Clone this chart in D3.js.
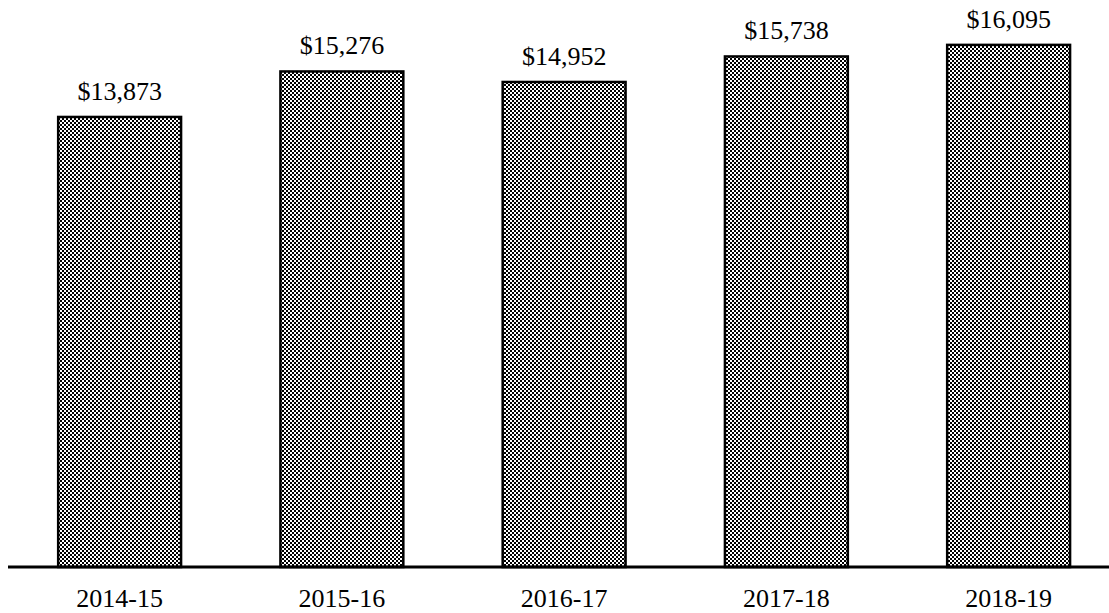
<!DOCTYPE html>
<html>
<head>
<meta charset="utf-8">
<script src="https://cdn.jsdelivr.net/npm/d3@7/dist/d3.min.js"></script>
<style>
html,body{margin:0;padding:0;background:#fff;}
svg{display:block;}
</style>
</head>
<body>
<svg id="chart" width="1109" height="613"></svg>
<script>
const categories = ["2014-15", "2015-16", "2016-17", "2017-18", "2018-19"];
const values = [13873, 15276, 14952, 15738, 16095];

const W = 1109, H = 613;
const baseY = 567;
const svg = d3.select("#chart");

const defs = svg.append("defs");
const pat = defs.append("pattern")
  .attr("id", "checker")
  .attr("patternUnits", "userSpaceOnUse")
  .attr("width", 4).attr("height", 4);
pat.append("rect").attr("width", 4).attr("height", 4).attr("fill", "#fff");
pat.append("rect").attr("x", 0).attr("y", 0).attr("width", 2).attr("height", 2).attr("fill", "#000");
pat.append("rect").attr("x", 2).attr("y", 2).attr("width", 2).attr("height", 2).attr("fill", "#000");

const x = d3.scaleBand()
  .domain(categories)
  .range([8.5, 1119.75])
  .paddingInner(0.447)
  .paddingOuter(0.2235);

const y = d3.scaleLinear()
  .domain([0, 18000])
  .range([baseY, baseY - 18000 * 0.03244]);

const data = categories.map((c, i) => ({c, v: values[i]}));

svg.append("g").selectAll("rect")
  .data(data)
  .enter().append("rect")
  .attr("x", d => x(d.c))
  .attr("y", d => y(d.v))
  .attr("width", x.bandwidth())
  .attr("height", d => y(0) - y(d.v))
  .attr("fill", "url(#checker)")
  .attr("stroke", "#000")
  .attr("stroke-width", 2.5);

const fmt = d3.format("$,");
svg.append("g").selectAll("text")
  .data(data)
  .enter().append("text")
  .attr("x", d => x(d.c) + x.bandwidth() / 2)
  .attr("y", d => y(d.v) - 17)
  .attr("text-anchor", "middle")
  .attr("font-family", "'Liberation Serif', 'Times New Roman', serif")
  .attr("font-size", 26)
  .attr("fill", "#000")
  .text(d => fmt(d.v));

const xAxis = d3.axisBottom(x).tickSize(0).tickPadding(0);
const gx = svg.append("g")
  .attr("transform", `translate(0,${baseY})`)
  .call(xAxis);
gx.select(".domain").remove();
gx.selectAll("text")
  .attr("font-family", "'Liberation Serif', 'Times New Roman', serif")
  .attr("font-size", 26)
  .attr("fill", "#000")
  .attr("dy", 0)
  .attr("y", 40);

svg.append("line")
  .attr("x1", 8).attr("x2", W)
  .attr("y1", baseY).attr("y2", baseY)
  .attr("stroke", "#000")
  .attr("stroke-width", 3);
</script>
</body>
</html>
